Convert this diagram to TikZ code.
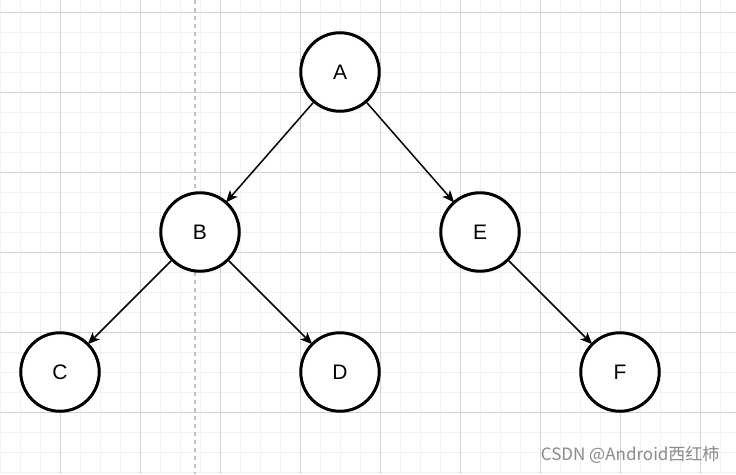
\documentclass[tikz,border=0pt]{standalone}
\usepackage{fontspec}
\setmainfont{Liberation Sans}
\newfontfamily\cjkfont{Noto Sans CJK SC}
\usetikzlibrary{arrows.meta}
\definecolor{gridMinor}{HTML}{F2F2F2}
\definecolor{gridMajor}{HTML}{D2D2D2}
\definecolor{guide}{HTML}{C0C0C0}
\definecolor{ink}{HTML}{000000}
\definecolor{mark}{HTML}{8A8A8A}
\tikzset{
    treenode/.style={
        circle,
        draw=ink,
        fill=white,
        line width=3pt,
        minimum size=78.5pt,
        inner sep=0pt,
        font=\fontsize{21}{24}\selectfont
    },
    edge/.style={
        -{Stealth[length=12pt,width=10pt,inset=3pt]},
        draw=ink,
        line width=1.5pt,
        shorten >=-1.5pt
    },
    minorline/.style={
        draw=gridMinor,
        line width=1pt
    },
    majorline/.style={
        draw=gridMajor,
        line width=0.8pt
    },
    guideline/.style={
        draw=guide,
        line width=1.3pt,
        dash pattern=on 4pt off 4pt
    },
    watermark/.style={
        font=\cjkfont\fontsize{17}{19}\selectfont,
        text=mark,
        anchor=east
    }
}

\begin{document}
\begin{tikzpicture}[x=1pt,y=-1pt]
    \useasboundingbox (0,0) rectangle (736,474);
    \fill[white] (0,0) rectangle (736,474);

    % Background grid
    \foreach \x in {0,20,...,720} {
        \draw[minorline] (\x,0) -- (\x,474);
    }
    \foreach \y in {12,32,...,472} {
        \draw[minorline] (0,\y) -- (736,\y);
    }
    \foreach \x in {60,140,...,700} {
        \draw[majorline] (\x,0) -- (\x,474);
    }
    \foreach \y in {12,92,...,412} {
        \draw[majorline] (0,\y) -- (736,\y);
    }

    % Dashed guide
    \draw[guideline] (195,0) -- (195,474);

    % Tree nodes
    \node[treenode] (A) at (340,72) {A};
    \node[treenode] (B) at (200,232) {B};
    \node[treenode] (E) at (480,232) {E};
    \node[treenode] (C) at (60,372) {C};
    \node[treenode] (D) at (340,372) {D};
    \node[treenode] (F) at (620,372) {F};

    % Parent to child edges
    \draw[edge] (A) -- (B);
    \draw[edge] (A) -- (E);
    \draw[edge] (B) -- (C);
    \draw[edge] (B) -- (D);
    \draw[edge] (E) -- (F);

    % Watermark
    \node[watermark] (credit) at (723,455) {CSDN @Android西红柿};

\end{tikzpicture}
\end{document}
